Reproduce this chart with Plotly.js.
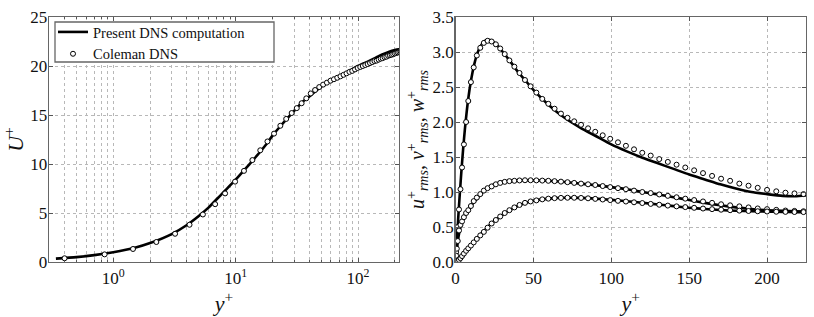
<!DOCTYPE html>
<html>
<head>
<meta charset="utf-8">
<script src="https://cdn.plot.ly/plotly-3.0.1.min.js"></script>
<style>html,body{margin:0;padding:0;background:#fff}#chart{width:814px;height:317px}</style>
</head>
<body>
<div id="chart"></div>
<script>
// ---- Coleman DNS (markers) ----
const yPlusColeman = [0.4, 0.85, 1.45, 2.25, 3.2, 4.2, 5.4, 6.8, 8.2, 9.9, 11.7, 13.7, 15.9, 18.2, 20.6, 23.2, 25.9, 28.7, 31.6, 34.6, 37.8, 41.1, 44.6, 48.2, 51.9, 55.7, 59.6, 63.6, 67.7, 71.9, 76.2, 80.6, 85.1, 89.7, 94.5, 99.3, 104.3, 109.4, 114.6, 119.9, 125.3, 130.8, 136.3, 141.9, 147.5, 153.2, 158.9, 164.7, 170.5, 176.3, 182.2, 188.1, 194.0, 200.0, 205.9, 211.8, 217.6, 223.4];
const uMeanColeman = [0.38, 0.78, 1.33, 2.04, 2.88, 3.80, 4.85, 5.9, 7.0, 8.2, 9.3, 10.4, 11.4, 12.3, 13.1, 13.9, 14.6, 15.2, 15.7, 16.2, 16.7, 17.2, 17.55, 17.85, 18.1, 18.3, 18.5, 18.65, 18.8, 18.95, 19.1, 19.25, 19.4, 19.5, 19.65, 19.8, 19.9, 20.0, 20.1, 20.2, 20.3, 20.4, 20.5, 20.55, 20.65, 20.75, 20.8, 20.9, 20.95, 21.05, 21.1, 21.15, 21.2, 21.28, 21.33, 21.38, 21.42, 21.45];
const uRmsColeman = [0.14, 0.30, 0.50, 0.75, 1.04, 1.35, 1.68, 2.0, 2.3, 2.57, 2.78, 2.95, 3.06, 3.13, 3.16, 3.15, 3.11, 3.05, 2.97, 2.88, 2.79, 2.70, 2.60, 2.51, 2.42, 2.33, 2.26, 2.19, 2.12, 2.06, 2.01, 1.96, 1.91, 1.86, 1.81, 1.76, 1.71, 1.66, 1.61, 1.56, 1.52, 1.47, 1.43, 1.39, 1.35, 1.31, 1.27, 1.23, 1.19, 1.16, 1.12, 1.09, 1.06, 1.03, 1.01, 0.99, 0.98, 0.97];
const wRmsColeman = [0.09, 0.19, 0.30, 0.45, 0.53, 0.58, 0.64, 0.70, 0.74, 0.80, 0.87, 0.92, 0.97, 1.02, 1.055, 1.08, 1.11, 1.13, 1.145, 1.155, 1.16, 1.165, 1.168, 1.168, 1.166, 1.163, 1.16, 1.155, 1.148, 1.14, 1.13, 1.12, 1.11, 1.10, 1.085, 1.07, 1.055, 1.04, 1.02, 1.0, 0.985, 0.965, 0.945, 0.925, 0.905, 0.885, 0.865, 0.845, 0.825, 0.81, 0.795, 0.78, 0.765, 0.755, 0.745, 0.735, 0.73, 0.725];
const vRmsColeman = [0.0, 0.003, 0.01, 0.03, 0.055, 0.085, 0.12, 0.16, 0.195, 0.235, 0.28, 0.33, 0.38, 0.43, 0.49, 0.55, 0.60, 0.65, 0.70, 0.74, 0.78, 0.815, 0.845, 0.865, 0.88, 0.895, 0.905, 0.912, 0.916, 0.918, 0.918, 0.915, 0.91, 0.902, 0.893, 0.884, 0.874, 0.864, 0.853, 0.842, 0.83, 0.818, 0.806, 0.795, 0.784, 0.774, 0.764, 0.755, 0.747, 0.74, 0.734, 0.729, 0.725, 0.721, 0.718, 0.716, 0.714, 0.713];

// ---- Present DNS computation (lines) ----
const yPlusMeanLine = [0.34, 0.5, 0.7, 1, 1.5, 2, 3, 4, 5, 6, 7, 8, 10, 12, 14, 16, 18, 20, 23, 26, 30, 35, 40, 50, 60, 70, 80, 100, 120, 140, 160, 180, 200, 215, 225];
const uMeanLine = [0.34, 0.5, 0.7, 1.0, 1.45, 1.93, 2.85, 3.78, 4.7, 5.55, 6.4, 7.15, 8.4, 9.5, 10.45, 11.3, 12.1, 12.9, 13.8, 14.55, 15.4, 16.3, 16.9, 17.9, 18.5, 18.95, 19.3, 20.0, 20.45, 20.85, 21.2, 21.45, 21.62, 21.7, 21.72];
const yPlusRmsLine = [0, 1, 2, 3, 4, 5, 6, 8, 10, 12, 14, 16, 18, 20, 22, 24, 27, 30, 35, 40, 45, 50, 60, 70, 80, 90, 100, 110, 120, 130, 140, 150, 160, 170, 180, 190, 200, 210, 218, 225];
const uRmsLine = [0, 0.36, 0.72, 1.05, 1.36, 1.64, 1.89, 2.3, 2.6, 2.82, 2.98, 3.08, 3.14, 3.17, 3.17, 3.15, 3.09, 3.01, 2.87, 2.72, 2.59, 2.46, 2.24, 2.06, 1.92, 1.80, 1.68, 1.58, 1.49, 1.41, 1.33, 1.25, 1.18, 1.11, 1.05, 1.0, 0.97, 0.945, 0.94, 0.95];
const wRmsLine = [0, 0.2, 0.37, 0.48, 0.56, 0.62, 0.67, 0.74, 0.80, 0.86, 0.91, 0.96, 1.01, 1.045, 1.075, 1.10, 1.125, 1.145, 1.16, 1.166, 1.168, 1.167, 1.16, 1.142, 1.12, 1.097, 1.07, 1.04, 1.0, 0.965, 0.925, 0.885, 0.845, 0.81, 0.78, 0.755, 0.74, 0.73, 0.725, 0.722];
const vRmsLine = [0, 0.004, 0.02, 0.05, 0.08, 0.11, 0.14, 0.19, 0.24, 0.29, 0.34, 0.39, 0.44, 0.48, 0.53, 0.57, 0.62, 0.67, 0.74, 0.80, 0.845, 0.875, 0.905, 0.917, 0.916, 0.905, 0.888, 0.868, 0.846, 0.822, 0.798, 0.776, 0.757, 0.742, 0.732, 0.725, 0.72, 0.716, 0.713, 0.712];

// ---- tick labels ----
const leftXTickVals = [1, 10, 100];
const leftXTickText = ['10<sup>0</sup>', '10<sup>1</sup>', '10<sup>2</sup>'];
const leftYTickVals = [0, 5, 10, 15, 20, 25];
const leftYTickText = ['0', '5', '10', '15', '20', '25'];
const rightXTickVals = [0, 50, 100, 150, 200];
const rightXTickText = ['0', '50', '100', '150', '200'];
const rightYTickVals = [0, 0.5, 1.0, 1.5, 2.0, 2.5, 3.0, 3.5];
const rightYTickText = ['0.0', '0.5', '1.0', '1.5', '2.0', '2.5', '3.0', '3.5'];

const W = 814, H = 317;
const FAM = 'Liberation Serif';
const lineStyle = {color: '#000', width: 2.6, shape: 'spline', smoothing: 0.6};
const markerStyle = {symbol: 'circle', size: 5, color: '#fff', line: {color: '#000', width: 1}};

const traces = [
  {x: yPlusMeanLine, y: uMeanLine, mode: 'lines', line: lineStyle, name: 'Present DNS computation', xaxis: 'x', yaxis: 'y', showlegend: true},
  {x: yPlusColeman, y: uMeanColeman, mode: 'markers', marker: markerStyle, name: 'Coleman DNS', xaxis: 'x', yaxis: 'y', showlegend: true},
  {x: yPlusRmsLine, y: uRmsLine, mode: 'lines', line: lineStyle, xaxis: 'x2', yaxis: 'y2', showlegend: false},
  {x: yPlusRmsLine, y: wRmsLine, mode: 'lines', line: lineStyle, xaxis: 'x2', yaxis: 'y2', showlegend: false},
  {x: yPlusRmsLine, y: vRmsLine, mode: 'lines', line: lineStyle, xaxis: 'x2', yaxis: 'y2', showlegend: false},
  {x: yPlusColeman, y: uRmsColeman, mode: 'markers', marker: markerStyle, xaxis: 'x2', yaxis: 'y2', showlegend: false},
  {x: yPlusColeman, y: wRmsColeman, mode: 'markers', marker: markerStyle, xaxis: 'x2', yaxis: 'y2', showlegend: false},
  {x: yPlusColeman, y: vRmsColeman, mode: 'markers', marker: markerStyle, xaxis: 'x2', yaxis: 'y2', showlegend: false}
];

function axisBase(extra) {
  return Object.assign({
    showgrid: true, gridcolor: '#b8b8b8', griddash: 'dot', gridwidth: 1,
    showline: true, linecolor: '#666', linewidth: 1.3, mirror: 'ticks', ticks: 'inside',
    tickcolor: '#555', ticklen: 4, zeroline: false, automargin: false,
    tickfont: {family: FAM, size: 17, color: '#111'}
  }, extra);
}

const yTop = 17, yBot = 262;
const yDom = [(H - yBot) / H, (H - yTop) / H];

const layout = {
  width: W, height: H,
  margin: {l: 0, r: 0, t: 0, b: 0},
  paper_bgcolor: '#fff', plot_bgcolor: '#fff',
  font: {family: FAM, size: 17, color: '#111'},
  showlegend: true,
  legend: {x: 53 / W, y: (H - 16) / H, xanchor: 'left', yanchor: 'top',
    bgcolor: 'rgba(0,0,0,0)', borderwidth: 0,
    font: {family: FAM, size: 14.5, color: '#111'}, tracegroupgap: 0, itemwidth: 30},
  shapes: [{type: 'rect', xref: 'paper', yref: 'paper', layer: 'above',
    x0: 55 / W, x1: 274 / W, y0: (H - 62) / H, y1: (H - 22) / H,
    fillcolor: '#fff', line: {color: '#666', width: 1.3}}],
  xaxis: axisBase({
    type: 'log', domain: [49 / W, 399 / W], range: [-0.525, 2.335],
    tickmode: 'array', tickvals: leftXTickVals, ticktext: leftXTickText,
    minor: {dtick: 'D1', showgrid: true, gridcolor: '#b8b8b8', griddash: 'dot', gridwidth: 1, ticks: 'inside', ticklen: 2, tickcolor: '#555'},
    title: {text: '<i>y</i><sup>+</sup>', font: {family: FAM, size: 22}, standoff: 4},
    anchor: 'y'}),
  yaxis: axisBase({
    domain: yDom, range: [0, 25], tickmode: 'array', tickvals: leftYTickVals, ticktext: leftYTickText,
    ticklabelstandoff: -3,
    title: {text: '<i>U</i><sup>+</sup>', font: {family: FAM, size: 22}, standoff: 4},
    anchor: 'x'}),
  xaxis2: axisBase({
    domain: [455.5 / W, 806 / W], range: [0, 225], tickmode: 'array', tickvals: rightXTickVals, ticktext: rightXTickText,
    title: {text: '<i>y</i><sup>+</sup>', font: {family: FAM, size: 22}, standoff: 4},
    anchor: 'y2'}),
  yaxis2: axisBase({
    domain: yDom, range: [0, 3.5], tickmode: 'array', tickvals: rightYTickVals, ticktext: rightYTickText,
    ticklabelstandoff: -3,
    title: {text: '<i>u</i><sup>+</sup><sub><i>rms</i></sub>, <i>v</i><sup>+</sup><sub><i>rms</i></sub>, <i>w</i><sup>+</sup><sub><i>rms</i></sub>', font: {family: FAM, size: 20}, standoff: 2},
    anchor: 'x2'})
};

Plotly.newPlot('chart', traces, layout, {displayModeBar: false, staticPlot: true});
</script>
</body>
</html>
